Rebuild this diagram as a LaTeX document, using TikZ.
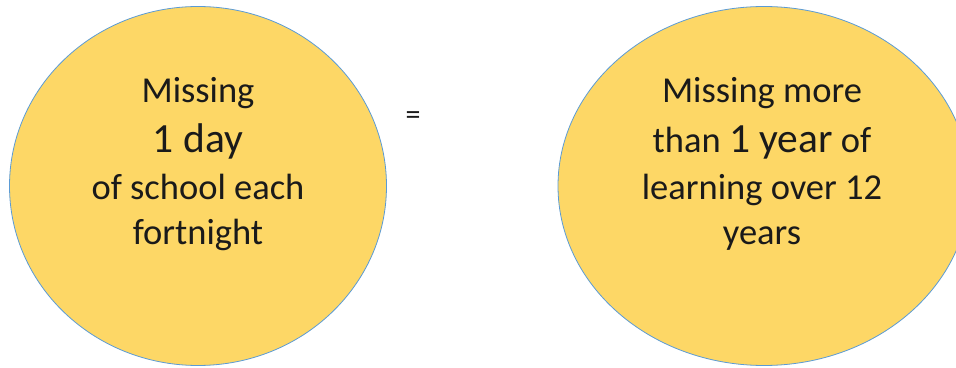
\documentclass[tikz,border=0pt]{standalone}
\usepackage{fontspec}
\setmainfont{Carlito}
\usetikzlibrary{shapes.geometric}
\definecolor{goldfill}{HTML}{FDD766}
\definecolor{blueline}{HTML}{5B9BD5}
\definecolor{txt}{HTML}{1A1A1A}
\tikzset{
  blob/.style={ellipse, draw=blueline, fill=goldfill, line width=0.8pt, inner sep=0pt},
  ln/.style={anchor=base, inner sep=0pt, text=txt, font=\fontsize{36.5}{44}\selectfont},
  big/.style={ln, font=\fontsize{41.5}{50}\selectfont}
}
\begin{document}
\begin{tikzpicture}[x=1pt,y=1pt]
\useasboundingbox (0,0) rectangle (956,367);
\node[blob, minimum width=377pt, minimum height=359pt] (left) at (198,181) {};
\node[blob, minimum width=412pt, minimum height=359pt] (right) at (764,181) {};
% left text
\node[ln] (l1) at (198,264) {Missing};
\node[big] (l2) at (198,214) {1 day};
\node[ln] (l3) at (198,167) {of school each};
\node[ln] (l4) at (198,122) {fortnight};
% equals
\node[inner sep=0pt, text=txt, font=\fontsize{30}{36}\selectfont] (eq) at (413,249) {=};
% right text
\node[ln] (r1) at (762,264) {Missing more};
\node[ln] (r2) at (762,214) {than {\fontsize{41.5}{50}\selectfont 1 year} of};
\node[ln] (r3) at (762,167) {learning over 12};
\node[ln] (r4) at (762,122) {years};
\end{tikzpicture}
\end{document}
